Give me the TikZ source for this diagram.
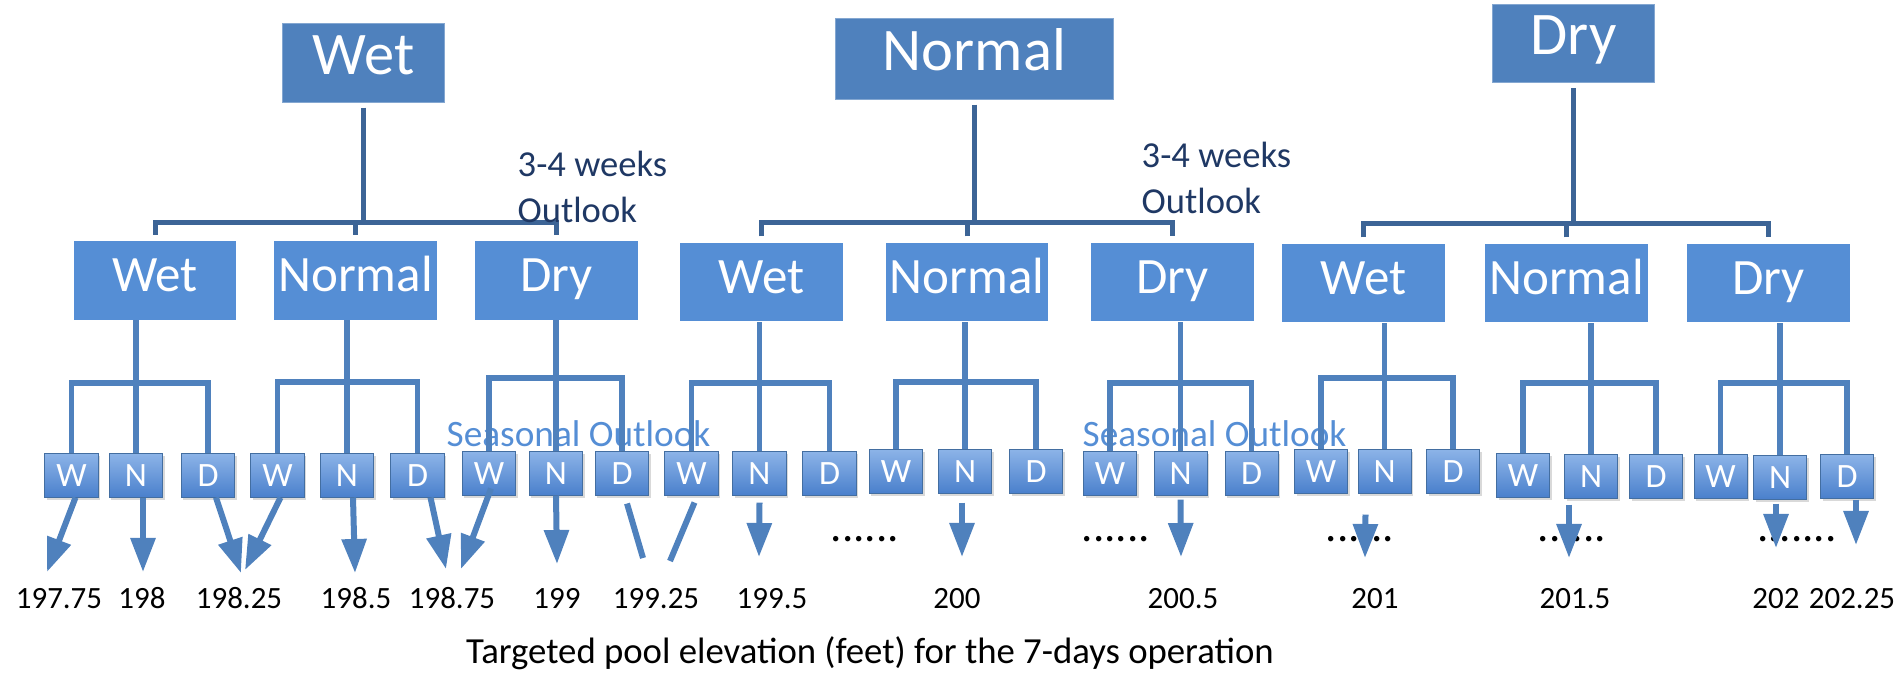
\documentclass[tikz,border=0pt]{standalone}
\usepackage{fontspec}
\setmainfont{Carlito}
\usetikzlibrary{arrows.meta,shadows}
\definecolor{topblue}{HTML}{4F81BD}
\definecolor{midblue}{HTML}{558ED5}
\definecolor{linkblue}{HTML}{3C6496}
\definecolor{navy}{HTML}{1F3864}
\definecolor{leaftop}{HTML}{8DB4E8}
\definecolor{leafbot}{HTML}{4A80CC}
\tikzset{
topbox/.style={fill=topblue, draw=topblue!70!white, line width=0.01cm, text=white, inner sep=0pt, minimum height=0.78cm, text height=0.63em, text depth=0pt, font=\fontsize{17.2}{20}\selectfont},
midbox/.style={fill=midblue, text=white, inner sep=0pt, minimum width=1.62cm, minimum height=0.78cm, text height=0.63em, text depth=0pt, font=\fontsize{14.5}{17}\selectfont},
leaf/.style={draw=topblue!85!black, line width=0.01cm, top color=leaftop, bottom color=leafbot, text=white, inner sep=0pt, minimum width=0.53cm, minimum height=0.44cm, text height=0.63em, text depth=0pt, font=\fontsize{9.7}{11}\selectfont, drop shadow={shadow xshift=0.02cm, shadow yshift=-0.03cm, opacity=0.3}},
toplink/.style={draw=linkblue, line width=0.05cm},
sublink/.style={draw=topblue, line width=0.055cm},
arr/.style={draw=topblue, line width=0.06cm, -{Triangle[width=0.24cm,length=0.34cm]}},
stub/.style={draw=topblue, line width=0.06cm},
num/.style={anchor=base, inner sep=0pt, font=\fontsize{8.8}{10}\selectfont},
weeks/.style={anchor=base west, align=left, inner sep=0pt, text=navy, font=\fontsize{10.4}{12.8}\selectfont},
season/.style={anchor=base west, inner sep=0pt, text=midblue, font=\fontsize{10.6}{12}\selectfont},
dotrow/.style={anchor=base, inner sep=0pt, font=\fontsize{12.8}{14}\selectfont}
}

\begin{document}
\begin{tikzpicture}[x=0.01cm, y=-0.01cm]
\useasboundingbox (0,0) rectangle (1897,672);
\node[season] (so1) at (446,446) {Seasonal Outlook};
\node[season] (so2) at (1082,446) {Seasonal Outlook};
\node[dotrow] (d1) at (865,541) {......};
\node[dotrow] (d2) at (1116,541) {......};
\node[dotrow] (d3) at (1360,541) {......};
\node[dotrow] (d4) at (1572,541) {......};
\node[dotrow] (d5) at (1797,541) {.......};

\node[topbox, minimum width=1.61cm] (t1) at (363.5,63) {Wet};
\node[topbox, minimum width=2.77cm, minimum height=0.8cm] (t2) at (974.5,59) {Normal};
\node[topbox, minimum width=1.61cm] (t3) at (1573.5,43.5) {Dry};

\foreach \i/\x/\y/\t in {1/155/280.5/Wet,2/355.5/280.5/Normal,3/556.5/280.5/Dry,
4/761.5/282/Wet,5/967/282/Normal,6/1172.5/282/Dry,
7/1363.5/283/Wet,8/1566.5/283/Normal,9/1768.5/283/Dry}{
\node[midbox] (s\i) at (\x,\y) {\t};
}

\foreach \i/\x/\y/\t in {1/71.5/475/W,2/136/475/N,3/208/475/D,
4/277.5/475/W,5/347/475/N,6/417.5/475/D,
7/489/473/W,8/556/473/N,9/622/473/D,
10/691.5/473/W,11/759.5/473/N,12/829.5/473/D,
13/896/471/W,14/965/471/N,15/1036/471/D,
16/1110/473/W,17/1180.5/473/N,18/1251.5/473/D,
19/1321/471/W,20/1384.5/471/N,21/1453/471/D,
22/1523/475/W,23/1591/476/N,24/1656/476/D,
25/1720.5/476/W,26/1780/477/N,27/1847/476/D}{
\node[leaf] (b\i) at (\x,\y) {\t};
}

\foreach \k/\a/\b/\c/\h in {1/1/2/3/222,2/4/5/6/222,3/7/8/9/223}{
\draw[toplink, shorten <=0.06cm, shorten >=0.06cm] (s\a.north) -- (s\a.north |- 0,\h) -- (s\c.north |- 0,\h) -- (s\c.north);
\draw[toplink, shorten <=0.05cm] (t\k.south) -- (t\k.south |- 0,\h);
\draw[toplink, shorten <=0.06cm] (s\b.north) -- (s\b.north |- 0,\h);
}

\foreach \m/\a/\b/\c/\h in {1/1/2/3/383,2/4/5/6/382,3/7/8/9/378,4/10/11/12/383,5/13/14/15/382,
6/16/17/18/383,7/19/20/21/378,8/22/23/24/383,9/25/26/27/383}{
\draw[sublink] (b\a.north) -- (b\a.north |- 0,\h) -- (b\c.north |- 0,\h) -- (b\c.north);
\draw[sublink] (b\b.north) -- (b\b.north |- s\m.south);
}

\foreach \i/\dx/\g/\x/\y in {1/4/0/47/572,2/7/0/143/572,3/8/0/241/573,4/3/0/245/570,
5/6/0/355/573,6/13/0/446/569,7/2/-7/461/569,8/0/0/557/564,11/0/7/759/557,
14/-3/9/962/557,17/0/4/1181/557,20/-19/21/1365/558,23/-22/6/1569/558,
26/-4/4/1776/548,27/9/1/1856/545}{
\coordinate (e\i) at (\x,\y);
\draw[arr] ([shift={(\dx,\g)}]b\i.south) -- (e\i);
}
\foreach \i/\dx/\g/\x/\y in {9/5/8/643/558,10/3/7/670/561}{
\coordinate (e\i) at (\x,\y);
\draw[stub] ([shift={(\dx,\g)}]b\i.south) -- (e\i);
}

\node[weeks] (w1) at (517,222) {3-4 weeks\\Outlook};
\node[weeks] (w2) at (1141,213) {3-4 weeks\\Outlook};

\foreach \i/\x/\t in {1/59/197.75,2/142/198,3/239/198.25,4/356/198.5,5/452/198.75,
6/557/199,7/656/199.25,8/772/199.5,9/957/200,10/1183/200.5,11/1375/201,
12/1575/201.5,13/1776/202,14/1852/202.25}{
\node[num] (n\i) at (\x,608) {\t};
}
\node[anchor=base, inner sep=0pt, font=\fontsize{10.45}{12}\selectfont] (cap) at (870,663) {Targeted pool elevation (feet) for the 7-days operation};
\end{tikzpicture}
\end{document}
